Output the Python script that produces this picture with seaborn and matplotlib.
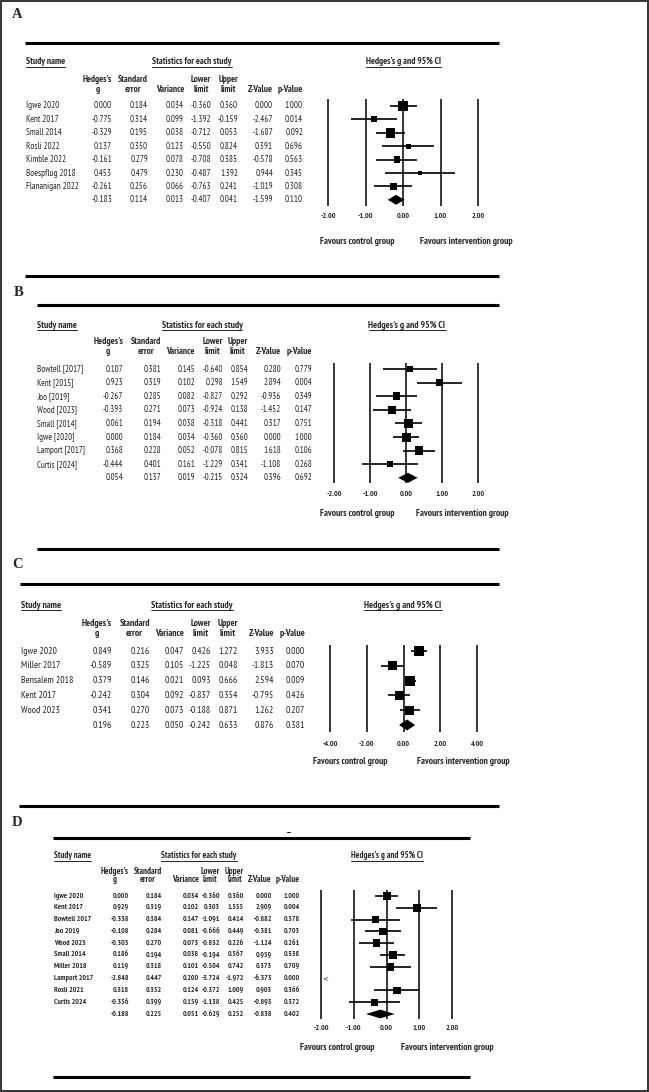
import numpy as np
import pandas as pd
import matplotlib
matplotlib.use("Agg")
import matplotlib.pyplot as plt
from matplotlib import font_manager
from matplotlib.patches import Rectangle
import seaborn as sns

# ==========================================
# DATA
# last entry of every numeric list = pooled summary row
# ==========================================
a_names = ["Igwe 2020", "Kent 2017", "Small 2014", "Rosli 2022", "Kimble 2022",
           "Boespflug 2018", "Flananigan 2022"]
a_g = [0.000, -0.775, -0.329, 0.137, -0.161, 0.453, -0.261, -0.183]
a_se = [0.184, 0.314, 0.195, 0.350, 0.279, 0.479, 0.256, 0.114]
a_var = [0.034, 0.099, 0.038, 0.123, 0.078, 0.230, 0.066, 0.013]
a_lo = [-0.360, -1.392, -0.712, -0.550, -0.708, -0.487, -0.763, -0.407]
a_hi = [0.360, -0.159, 0.053, 0.824, 0.385, 1.392, 0.241, 0.041]
a_z = [0.000, -2.467, -1.687, 0.391, -0.578, 0.944, -1.019, -1.599]
a_p = [1.000, 0.014, 0.092, 0.696, 0.563, 0.345, 0.308, 0.110]

b_names = ["Bowtell [2017]", "Kent [2015]", "Joo [2019]", "Wood [2023]", "Small [2014]",
           "Igwe [2020]", "Lamport [2017]", "Curtis [2024]"]
b_g = [0.107, 0.923, -0.267, -0.393, 0.061, 0.000, 0.368, -0.444, 0.054]
b_se = [0.381, 0.319, 0.285, 0.271, 0.194, 0.184, 0.228, 0.401, 0.137]
b_var = [0.145, 0.102, 0.082, 0.073, 0.038, 0.034, 0.052, 0.161, 0.019]
b_lo = [-0.640, 0.298, -0.827, -0.924, -0.318, -0.360, -0.078, -1.229, -0.215]
b_hi = [0.854, 1.549, 0.292, 0.138, 0.441, 0.360, 0.815, 0.341, 0.324]
b_z = [0.280, 2.894, -0.936, -1.452, 0.317, 0.000, 1.618, -1.108, 0.396]
b_p = [0.779, 0.004, 0.349, 0.147, 0.751, 1.000, 0.106, 0.268, 0.692]

c_names = ["Igwe 2020", "Miller 2017", "Bensalem 2018", "Kent 2017", "Wood 2023"]
c_g = [0.849, -0.589, 0.379, -0.242, 0.341, 0.196]
c_se = [0.216, 0.325, 0.146, 0.304, 0.270, 0.223]
c_var = [0.047, 0.105, 0.021, 0.092, 0.073, 0.050]
c_lo = [0.426, -1.225, 0.093, -0.837, -0.188, -0.242]
c_hi = [1.272, 0.048, 0.666, 0.354, 0.871, 0.633]
c_z = [3.933, -1.813, 2.594, -0.795, 1.262, 0.876]
c_p = [0.000, 0.070, 0.009, 0.426, 0.207, 0.381]

d_names = ["Igwe 2020", "Kent 2017", "Bowtell 2017", "Joo 2019", "Wood 2023", "Small 2014",
           "Miller 2018", "Lamport 2017", "Rosli 2021", "Curtis 2024"]
d_g = [0.000, 0.929, -0.338, -0.108, -0.303, 0.186, 0.119, -2.848, 0.318, -0.356, -0.188]
d_se = [0.184, 0.319, 0.384, 0.284, 0.270, 0.194, 0.318, 0.447, 0.352, 0.399, 0.225]
d_var = [0.034, 0.102, 0.147, 0.081, 0.073, 0.038, 0.101, 0.200, 0.124, 0.159, 0.051]
d_lo = [-0.360, 0.303, -1.091, -0.666, -0.832, -0.194, -0.504, -3.724, -0.372, -1.138, -0.629]
d_hi = [0.360, 1.555, 0.414, 0.449, 0.226, 0.567, 0.742, -1.972, 1.009, 0.425, 0.252]
d_z = [0.000, 2.909, -0.882, -0.381, -1.124, 0.959, 0.373, -6.373, 0.903, -0.893, -0.838]
d_p = [1.000, 0.004, 0.378, 0.703, 0.261, 0.338, 0.709, 0.000, 0.366, 0.372, 0.402]

a_ticks = [-2, -1, 0, 1, 2]
b_ticks = [-2, -1, 0, 1, 2]
c_ticks = [-4, -2, 0, 2, 4]
d_ticks = [-2, -1, 0, 1, 2]

headers = [["Hedges's", "g"], ["Standard", "error"], ["Variance"], ["Lower", "limit"],
           ["Upper", "limit"], ["Z-Value"], ["p-Value"]]


# ==========================================
# FONTS / FIGURE
# ==========================================
WEIGHTS = {"ultralight": 200, "light": 300, "normal": 400, "regular": 400, "book": 400,
           "medium": 500, "roman": 400, "semibold": 600, "demibold": 600, "demi": 600,
           "bold": 700, "heavy": 800, "extra bold": 800, "black": 900}


def _w(f):
    return f.weight if isinstance(f.weight, int) else WEIGHTS.get(str(f.weight).lower(), 400)


def first_font(candidates):
    """first family that has both a regular and a bold face installed"""
    for fam in candidates:
        ws = [_w(f) for f in font_manager.fontManager.ttflist if f.name == fam]
        if any(w <= 500 for w in ws) and any(w >= 600 for w in ws):
            return fam
    return "Liberation Sans"


sns.set_style("white")
NARROW = first_font(["Liberation Sans Narrow", "Arial Narrow", "Archivo Narrow",
                     "PT Sans Narrow", "Roboto Condensed", "Fira Sans Condensed",
                     "IBM Plex Sans Condensed", "Asap Condensed", "Encode Sans Condensed",
                     "Liberation Sans"])
SERIF = first_font(["Liberation Serif", "Tinos", "DejaVu Serif"])
plt.rcParams['font.family'] = [NARROW, 'DejaVu Sans']

W, H = 649, 1092
fig = plt.figure(figsize=(W / 100, H / 100), dpi=100)
fig.patch.set_facecolor("white")
base = fig.add_axes([0, 0, 1, 1])
base.set_xlim(0, W)
base.set_ylim(H, 0)
base.axis("off")
base.add_patch(Rectangle((1, 1), W - 2.5, H - 2.5, fill=False, lw=1.4, ec="#333333"))
renderer = fig.canvas.get_renderer()

PX = 100 / 72  # pixels per point


def fit_size(sample, target_px, family=None, weight="normal"):
    """font size (pt) that makes `sample` about target_px wide"""
    t = base.text(0, 0, sample, fontsize=10, family=family or NARROW, weight=weight)
    w = t.get_window_extent(renderer).width
    t.remove()
    return 10 * target_px / w


# layout of each panel (pixel positions); sizes are fitted to measured text widths
lay_a = dict(label="A", label_xy=(12, 14), top=(43, 25, 499), bottom=(276, 25, 499),
             title_y=62, name_x=26, stats_x=192, ci_x=403, hdr=(79, 89),
             cols=[112, 148, 184, 211, 238, 273, 303], row0=106, step=13.4,
             px=(328, 478), span=(99, 206), tick_y=218, fav=(241, 357, 466),
             row_fit=("Flananigan 2022", 53), hdr_fit=80, weight="normal",
             tau2=0.0, max_side=10)
lay_b = dict(label="B", label_xy=(14, 293), top=(305, 37, 499), bottom=(549, 37, 499),
             title_y=325, name_x=37, stats_x=202, ci_x=407, hdr=(342, 351),
             cols=[123, 161, 195, 223, 248, 281, 312], row0=369, step=13.6,
             px=(334, 478), span=(363, 483), tick_y=496, fav=(513, 357, 462),
             row_fit=("Bowtell [2017]", 46), hdr_fit=81, weight="normal",
             tau2=0.1, max_side=9)
lay_c = dict(label="C", label_xy=(12, 565), top=(584, 20, 499), bottom=(806, 19, 499),
             title_y=605, name_x=21, stats_x=192, ci_x=403, hdr=(624, 634),
             cols=[112, 150, 184, 211, 238, 274, 305], row0=651, step=14.8,
             px=(330, 477), span=(645, 732), tick_y=746, fav=(761, 350, 463),
             row_fit=("Bensalem 2018", 52.5), hdr_fit=82, weight="normal",
             tau2=0.3, max_side=10)
lay_d = dict(label="D", label_xy=(12, 823), top=(838, 53, 470), bottom=(1077, 53, 470),
             title_y=856, name_x=54, stats_x=199, ci_x=387, hdr=(871, 880),
             cols=[129, 162, 199, 220, 244, 272, 300], row0=896, step=11.8,
             px=(321, 452), span=(890, 1019), tick_y=1029, fav=(1048, 337, 447),
             row_fit=("Lamport 2017", 39), hdr_fit=75, weight="bold",
             tau2=0.4, max_side=8)

FAV_FS = fit_size("Favours control group", 75, NARROW, "bold")
TICK_FS = fit_size("-2.00", 15.5, NARROW, "bold")

texts_to_underline = []
two_line = []


def draw_panel(lay, names, g, se, var, lo, hi, z, p, ticks):
    fs = fit_size(lay["row_fit"][0], lay["row_fit"][1], weight=lay["weight"])
    hfs = fit_size("Statistics for each study", lay["hdr_fit"], weight="bold")
    base.text(*lay["label_xy"], lay["label"], family=SERIF, weight="bold",
              fontsize=10.5, ha="left", va="center")
    for key in ("top", "bottom"):
        y, x0, x1 = lay[key]
        base.plot([x0, x1], [y, y], color="black", lw=2.2, solid_capstyle="butt")

    # titles (underlined later)
    ty = lay["title_y"]
    for x, s, ha in [(lay["name_x"], "Study name", "left"),
                     (lay["stats_x"], "Statistics for each study", "center"),
                     (lay["ci_x"], "Hedges's g and 95% CI", "center")]:
        t = base.text(x, ty, s, fontsize=hfs, weight="bold", ha=ha, va="center")
        texts_to_underline.append(t)

    # column headers
    h1, h2 = lay["hdr"]
    for xr, hd in zip(lay["cols"], headers):
        if len(hd) == 2:
            t1 = base.text(xr, h1, hd[0], fontsize=hfs, weight="bold", ha="right", va="center")
            t2 = base.text(xr, h2, hd[1], fontsize=hfs, weight="bold", ha="center", va="center")
            two_line.append((t1, t2))
        else:
            base.text(xr, h2, hd[0], fontsize=hfs, weight="bold", ha="right", va="center")

    # table rows
    n = len(g)
    for i in range(n):
        y = lay["row0"] + i * lay["step"]
        if i < len(names):
            base.text(lay["name_x"], y, names[i], fontsize=fs, weight=lay["weight"],
                      ha="left", va="center")
        for xr, col in zip(lay["cols"], [g, se, var, lo, hi, z, p]):
            base.text(xr, y, f"{col[i]:.3f}", fontsize=fs, weight=lay["weight"],
                      ha="right", va="center")

    # forest plot axes
    m = 12
    px0, px1 = lay["px"]
    ppu = (px1 - px0) / (ticks[-1] - ticks[0])
    top, bot = lay["span"]
    ax = fig.add_axes([(px0 - m) / W, 1 - bot / H, (px1 - px0 + 2 * m) / W, (bot - top) / H])
    xmin, xmax = ticks[0], ticks[-1]

    ns = n - 1
    rows = np.arange(ns)
    g_st = np.array(g[:ns])
    w = 1.0 / (np.array(var[:ns]) + lay["tau2"])
    side = lay["max_side"] * np.sqrt(w / w.max()) / PX
    area = side ** 2
    inside = g_st >= xmin
    sdf = pd.DataFrame({"g": g_st[inside], "row": rows[inside], "area": area[inside]})
    sns.scatterplot(data=sdf, x="g", y="row", size="area",
                    sizes=(area.min(), area.max()), size_norm=(area.min(), area.max()),
                    marker="s", color="black", linewidth=0, legend=False, ax=ax, zorder=4)

    lo_c = np.clip(lo[:ns], xmin, xmax)
    hi_c = np.clip(hi[:ns], xmin, xmax)
    ax.hlines(rows[inside], lo_c[inside], hi_c[inside], color="black", lw=1.2, zorder=3)
    for r in rows[~inside]:
        ax.text(xmin + 1.0 / ppu, r, "<", fontsize=5, ha="left", va="center",
                family="DejaVu Sans")

    # pooled diamond
    r = ns
    hh = 0.37
    ax.fill([lo[r], g[r], hi[r], g[r]], [r, r - hh, r, r + hh], color="black", zorder=4, lw=0)

    for tv in ticks:
        ax.axvline(tv, color="black", lw=1.1, zorder=2)

    ax.set_xlim(xmin - m / ppu, xmax + m / ppu)
    ax.set_ylim((bot - lay["row0"]) / lay["step"], (top - lay["row0"]) / lay["step"])
    ax.set_xticks(ticks)
    ax.set_xticklabels([f"{t:.2f}" for t in ticks], fontsize=TICK_FS, weight="bold")
    ax.tick_params(axis="x", length=0, pad=(lay["tick_y"] - bot - 4.5) / PX)
    ax.set_yticks([])
    ax.set_xlabel("")
    ax.set_ylabel("")
    ax.patch.set_alpha(0)
    for s in ax.spines.values():
        s.set_visible(False)

    fy, fx0, fx1 = lay["fav"]
    base.text(fx0, fy, "Favours control group", fontsize=FAV_FS, weight="bold",
              ha="center", va="center")
    base.text(fx1, fy, "Favours intervention group", fontsize=FAV_FS, weight="bold",
              ha="center", va="center")


draw_panel(lay_a, a_names, a_g, a_se, a_var, a_lo, a_hi, a_z, a_p, a_ticks)
draw_panel(lay_b, b_names, b_g, b_se, b_var, b_lo, b_hi, b_z, b_p, b_ticks)
draw_panel(lay_c, c_names, c_g, c_se, c_var, c_lo, c_hi, c_z, c_p, c_ticks)
draw_panel(lay_d, d_names, d_g, d_se, d_var, d_lo, d_hi, d_z, d_p, d_ticks)

# small stray dash above panel D table
base.plot([286.5, 290], [832, 832], color="black", lw=0.7)

# underline titles, centre second header lines
for t in texts_to_underline:
    bb = t.get_window_extent(renderer)
    yl = H - bb.y0 + 0.3
    base.plot([bb.x0, bb.x1], [yl, yl], color="black", lw=0.6)
for t1, t2 in two_line:
    bb = t1.get_window_extent(renderer)
    t2.set_x((bb.x0 + bb.x1) / 2)

fig.savefig("out.png", dpi=100, facecolor="white")
